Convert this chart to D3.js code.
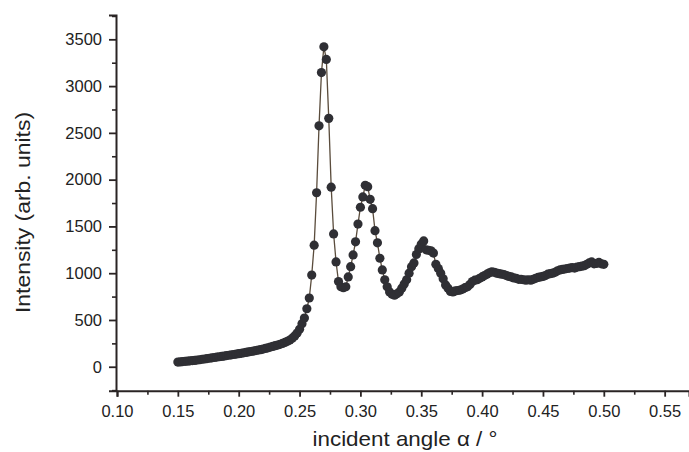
<!DOCTYPE html>
<html>
<head>
<meta charset="utf-8">
<script src="https://cdn.jsdelivr.net/npm/d3@7"></script>
<style>
  body { margin: 0; background: #fff; }
  svg { display: block; font-family: "Liberation Sans", Arial, sans-serif; }
  .axis path, .axis line { stroke: #2a2424; }
  .axis text { fill: #222; font-size: 16.5px; font-family: "Liberation Sans", Arial, sans-serif; }
</style>
</head>
<body>
<svg id="chart" width="689" height="452"></svg>
<script>
// incident angle (deg), step 0.002 from 0.150 to 0.500
var angles = d3.range(176).map(function(i) { return +(0.150 + i * 0.002).toFixed(3); });

var intensity = [
  50, 52, 55, 58, 60, 63, 66, 68, 72, 75,
  80, 83, 87, 91, 95, 99, 103, 107, 110, 114,
  119, 123, 127, 131, 136, 140, 144, 149, 153, 158,
  163, 168, 173, 178, 183, 189, 196, 202, 210, 217,
  225, 232, 240, 249, 260, 272, 285, 305, 330, 360,
  400, 460, 520, 620, 735, 980, 1300, 1860, 2575, 3145,
  3420, 3285, 2655, 1920, 1420, 1120, 910, 855, 845, 855,
  960, 1070, 1195, 1335, 1525, 1705, 1815, 1940, 1925, 1790,
  1690, 1455, 1325, 1160, 1035, 930, 855, 800, 775, 765,
  780, 800, 840, 885, 930, 1000, 1070, 1110, 1200, 1260,
  1310, 1345, 1250, 1245, 1240, 1215, 1095, 1050, 1000, 940,
  875, 840, 805, 800, 810, 815, 820, 830, 845, 855,
  880, 910, 925, 930, 945, 960, 975, 990, 1005, 1015,
  1010, 1000, 995, 990, 985, 975, 965, 960, 950, 945,
  935, 935, 930, 925, 930, 925, 935, 945, 955, 960,
  965, 975, 990, 995, 1000, 1010, 1025, 1035, 1040, 1045,
  1050, 1055, 1060, 1055, 1065, 1070, 1075, 1080, 1095, 1110,
  1120, 1100, 1105, 1115, 1100, 1095
];

var xMajor = [0.10, 0.15, 0.20, 0.25, 0.30, 0.35, 0.40, 0.45, 0.50, 0.55];
var xMinor = [0.125, 0.175, 0.225, 0.275, 0.325, 0.375, 0.425, 0.475, 0.525];
var yMajor = [0, 500, 1000, 1500, 2000, 2500, 3000, 3500];
var yMinor = [-250, 250, 750, 1250, 1750, 2250, 2750, 3250, 3750];

var points = angles.map(function(a, i) { return {x: a, y: intensity[i]}; });

var svg = d3.select('#chart');

var x = d3.scaleLinear().domain([0.10, 0.57]).range([117, 689]);
var y = d3.scaleLinear().domain([-256, 3760]).range([390.7, 15]);

// MINOR TICKS
svg.append('g')
    .attr('class', 'axis')
    .attr('transform', 'translate(0,390.7)')
    .call(d3.axisBottom(x).tickValues(xMinor).tickSize(4).tickFormat(''))
    .call(function(g) { g.select('.domain').remove(); })
    .selectAll('line').attr('stroke-width', 1.6);

svg.append('g')
    .attr('class', 'axis')
    .attr('transform', 'translate(116,0)')
    .call(d3.axisLeft(y).tickValues(yMinor).tickSize(4).tickFormat(''))
    .call(function(g) { g.select('.domain').remove(); })
    .selectAll('line').attr('stroke-width', 1.6);

// MAJOR TICKS + AXES
var xAxis = svg.append('g')
    .attr('class', 'axis')
    .attr('transform', 'translate(0,390.7)')
    .call(d3.axisBottom(x).tickValues(xMajor).tickSize(6).tickPadding(9)
      .tickFormat(d3.format('.2f')));
xAxis.select('.domain').attr('stroke-width', 2);
xAxis.selectAll('line').attr('stroke-width', 1.8);

var yAxis = svg.append('g')
    .attr('class', 'axis')
    .attr('transform', 'translate(116,0)')
    .call(d3.axisLeft(y).tickValues(yMajor).tickSize(7).tickPadding(7)
      .tickFormat(d3.format('d')));
yAxis.select('.domain').attr('stroke-width', 2);
yAxis.selectAll('line').attr('stroke-width', 1.8);

// AXIS TITLES
svg.append('text')
    .attr('x', 405)
    .attr('y', 446)
    .attr('text-anchor', 'middle')
    .attr('font-size', 21)
    .attr('textLength', 185)
    .attr('lengthAdjust', 'spacingAndGlyphs')
    .attr('fill', '#222')
    .text('incident angle α / °');

svg.append('text')
    .attr('transform', 'translate(30,212.5) rotate(-90)')
    .attr('text-anchor', 'middle')
    .attr('font-size', 20)
    .attr('textLength', 201)
    .attr('lengthAdjust', 'spacingAndGlyphs')
    .attr('fill', '#222')
    .text('Intensity (arb. units)');

// LINE + POINTS
var line = d3.line()
    .x(function(d) { return x(d.x); })
    .y(function(d) { return y(d.y); });

svg.append('path')
    .datum(points)
    .attr('fill', 'none')
    .attr('stroke', '#5a4c3c')
    .attr('stroke-width', 1.3)
    .attr('d', line);

svg.selectAll('circle.pt')
    .data(points)
    .enter().append('circle')
      .attr('class', 'pt')
      .attr('cx', function(d) { return x(d.x); })
      .attr('cy', function(d) { return y(d.y); })
      .attr('r', 4.6)
      .attr('fill', '#2f2f34');
</script>
</body>
</html>
